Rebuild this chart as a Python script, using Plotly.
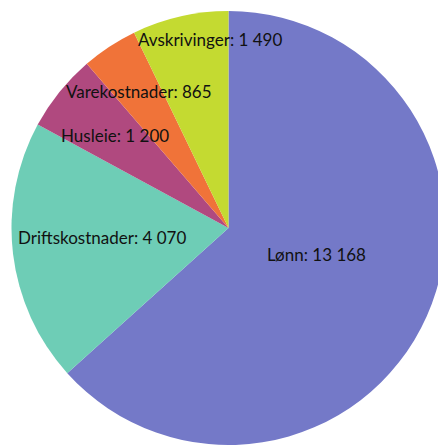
import math
import plotly.graph_objects as go

kategorier = ["Lønn", "Driftskostnader", "Husleie", "Varekostnader", "Avskrivinger"]
belop = [13168, 4070, 1200, 865, 1490]
farger = ["#7479c8", "#6ecdb6", "#b0497f", "#f07339", "#c4da31"]

# label placement: fraction of radius, and angle nudge (degrees) from slice middle
etikett_r = [0.424, 0.585, 0.673, 0.751, 0.871]
etikett_vinkel = [-7, 2.3, 0.4, 0, 7.4]

W, H = 446, 445
ml, mr, mt, mb = 3, 8, 3, 8
pw, ph = W - ml - mr, H - mt - mb
R = min(pw, ph) / 2

fig = go.Figure(go.Pie(
    labels=kategorier,
    values=belop,
    sort=False,
    direction="clockwise",
    rotation=0,
    marker=dict(colors=farger, line=dict(width=0)),
    textinfo="none",
    hoverinfo="label+value",
    showlegend=False,
))

total = sum(belop)
start = 0
for navn, v, rf, dv in zip(kategorier, belop, etikett_r, etikett_vinkel):
    midt = math.radians((start + v / 2) / total * 360 + dv)
    start += v
    fig.add_annotation(
        x=0.5 + rf * R * math.sin(midt) / pw,
        y=0.5 + rf * R * math.cos(midt) / ph,
        xref="paper", yref="paper",
        xanchor="center", yanchor="middle",
        text=f"{navn}: {v:,}".replace(",", " "),
        showarrow=False,
        font=dict(family="Lato", size=17, color="#111111"),
    )

fig.update_layout(
    width=W,
    height=H,
    margin=dict(l=ml, r=mr, t=mt, b=mb),
    paper_bgcolor="white",
)

fig.write_html("out.html")
